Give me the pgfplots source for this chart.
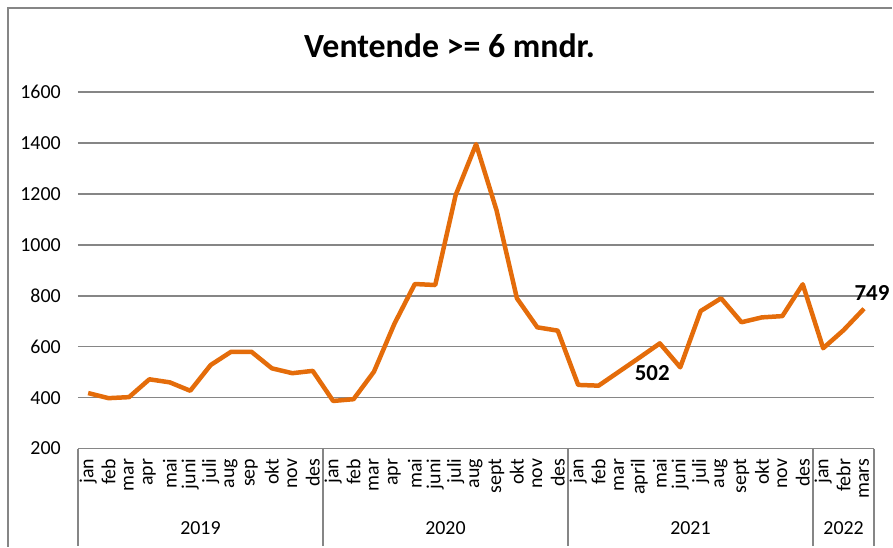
\documentclass[border=0pt]{standalone}
\usepackage{fontspec}
\setmainfont{Carlito}
\usepackage{pgfplots}
\pgfplotsset{compat=1.18}
\definecolor{lineorange}{RGB}{228,108,10}
\definecolor{gridgray}{RGB}{134,134,134}
\begin{document}
\begin{tikzpicture}
\begin{axis}[
 name=ax,
 at={(0,0)}, anchor=south west,
 scale only axis, width=797bp, height=357bp,
 xmin=-0.5, xmax=38.5, ymin=200, ymax=1600,
 ytick={200,400,...,1600},
 ymajorgrids, major grid style={gridgray, line width=1.6bp},
 axis line style={draw=none},
 xtick={0,...,38},
 xticklabels={jan,feb,mar,apr,mai,juni,juli,aug,sep,okt,nov,des,jan,feb,mar,apr,mai,juni,juli,aug,sept,okt,nov,des,jan,feb,mar,april,mai,juni,juli,aug,sept,okt,nov,des,jan,febr,mars},
 major tick length=0pt,
 xticklabel style={rotate=90, anchor=east, font=\fontsize{20}{20}\selectfont, inner sep=0pt},
 xticklabel shift=10bp,
 yticklabel style={font=\fontsize{20}{20}\selectfont, anchor=east, inner sep=0pt},
 yticklabel shift=17bp,
 /pgf/number format/assume math mode=true,
 /pgf/number format/1000 sep={},
 clip=false,
]
\addplot[lineorange, line width=4.5bp, line join=round] table {
x y
0 418
1 398
2 402
3 472
4 460
5 427
6 528
7 580
8 580
9 515
10 496
11 505
12 387
13 394
14 502
15 690
16 846
17 842
18 1195
19 1395
20 1136
21 790
22 676
23 663
24 450
25 447
26 502
27 557
28 613
29 519
30 740
31 790
32 696
33 715
34 720
35 845
36 594
37 665
38 749
};
\node[font=\bfseries\fontsize{23}{23}\selectfont] at (axis cs:27.63,497) {502};
\node[font=\bfseries\fontsize{23}{23}\selectfont] at (axis cs:38.39,810) {749};
\pgfplotsinvokeforeach{-0.5,11.5,23.5,35.5,38.5}{
  \draw[gridgray, line width=1.6bp] (axis cs:#1,200) -- (axis cs:#1,-184);
}
\node[font=\fontsize{20}{20}\selectfont] at (axis cs:5.5,-114) {2019};
\node[font=\fontsize{20}{20}\selectfont] at (axis cs:17.5,-114) {2020};
\node[font=\fontsize{20}{20}\selectfont] at (axis cs:29.5,-114) {2021};
\node[font=\fontsize{20}{20}\selectfont] at (axis cs:37,-114) {2022};
\node[font=\bfseries\fontsize{34}{36}\selectfont, anchor=base] at (axis cs:17.7,1734) {Ventende >= 6 mndr.};
\end{axis}
\draw[gridgray, line width=1.6bp] ([shift={(-70bp,-98bp)}]ax.south west) -- ([shift={(-70bp,441bp)}]ax.south west) -- ([shift={(815bp,441bp)}]ax.south west);
\path[use as bounding box] (ax.south west) ++(-78bp,-98bp) rectangle ++(893bp,547bp);
\end{tikzpicture}
\end{document}
